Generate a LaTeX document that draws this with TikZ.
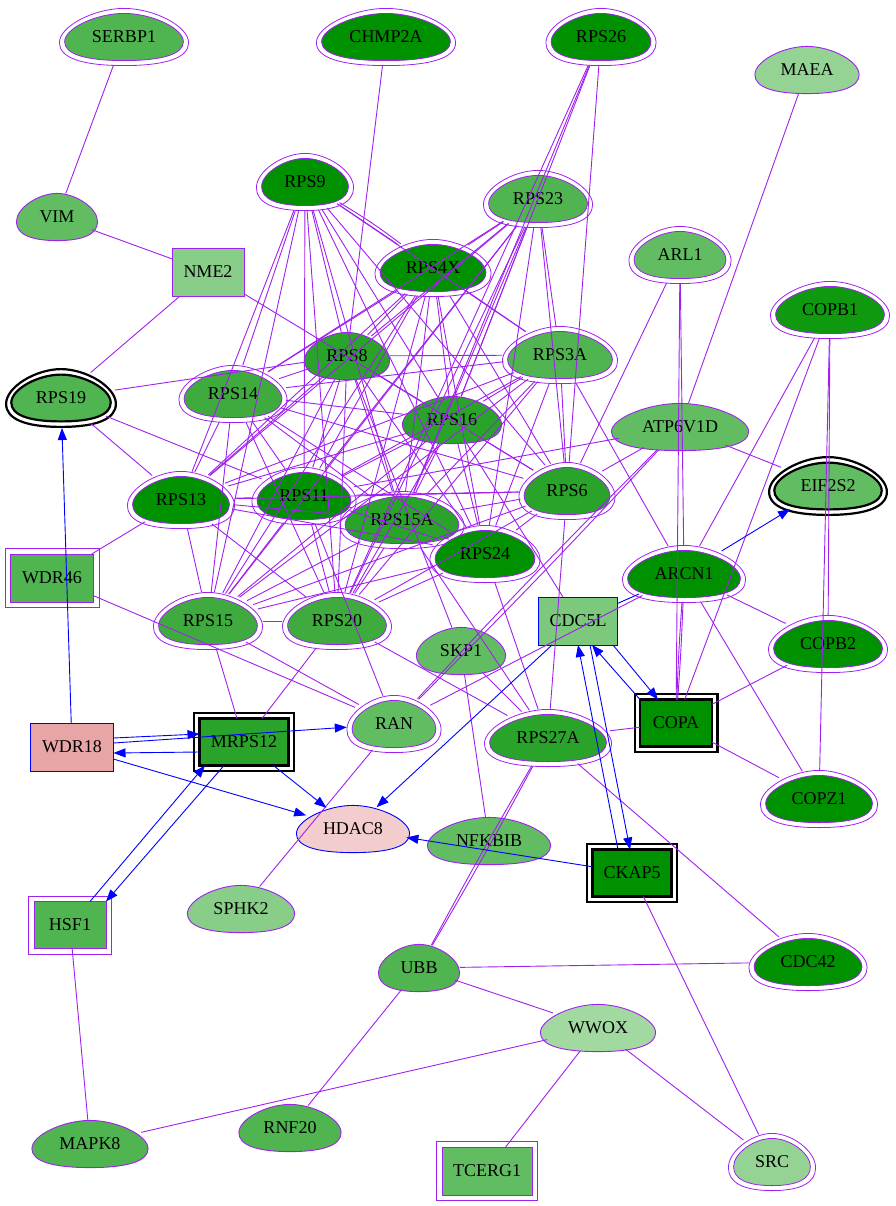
\documentclass[tikz,border=0pt]{standalone}
\usepackage{fontspec}
\setmainfont{Liberation Serif}
\usetikzlibrary{shapes.geometric,arrows.meta}

\definecolor{ppi}{HTML}{A020F0}
\definecolor{gA}{HTML}{009100}
\definecolor{gAb}{HTML}{0E990E}
\definecolor{gB}{HTML}{29A329}
\definecolor{gC}{HTML}{3FAB3F}
\definecolor{gD}{HTML}{50B450}
\definecolor{gE}{HTML}{62BD62}
\definecolor{gF}{HTML}{88CD88}
\definecolor{gFb}{HTML}{7CC87C}
\definecolor{gG}{HTML}{95D395}
\definecolor{gH}{HTML}{A1D9A1}
\definecolor{pinkA}{HTML}{F3CDCD}
\definecolor{pinkB}{HTML}{E8A5A5}

\pgfdeclarelayer{back}
\pgfsetlayers{back,main}

% egg outline round the origin: half width, half height
\newcommand{\eggpath}[2]{({0},{#2}) .. controls ({-0.66*(#1)},{#2}) and ({-(#1)},{0.72*(#2)}) .. ({-(#1)},{0.2*(#2)}) .. controls ({-(#1)},{-0.38*(#2)}) and ({-0.46*(#1)},{-(#2)}) .. ({0},{-(#2)}) .. controls ({0.46*(#1)},{-(#2)}) and ({#1},{-0.38*(#2)}) .. ({#1},{0.2*(#2)}) .. controls ({#1},{0.72*(#2)}) and ({0.66*(#1)},{#2}) .. ({0},{#2}) -- cycle}

\tikzset{
	hub/.style={ellipse, inner sep=0pt, outer sep=0pt, font=\fontsize{18}{20}\selectfont},
	genebox/.style={rectangle, draw=ppi, line width=0.8pt, inner sep=0pt, outer sep=0pt, minimum height=48pt, font=\fontsize{18}{20}\selectfont},
	seedbox/.style={genebox, draw=black, line width=2.4pt, minimum height=47pt},
	link/.style={draw=ppi, line width=0.9pt},
	reg/.style={draw=blue, line width=0.9pt, -{Triangle[length=12pt,width=9pt]}},
}

\begin{document}
\begin{tikzpicture}[x=1pt,y=-1pt]
	\useasboundingbox (0,0) rectangle (895,1206);
	
	%
	\foreach \n/\x/\y/\w/\c in {SERBP1/124/37/130/gD, CHMP2A/386/37/140/gA, RPS26/601/37/111/gA,
		RPS9/305/182/98/gA, RPS23/538/199/110/gD, RPS4X/433/268/117/gA, ARL1/680/255/103/gE,
		COPB1/830/310/120/gAb, RPS3A/560/355/116/gD, RPS14/233/394/109/gC, RPS13/181/500/108/gA,
		RPS11/304/496/105/gA, RPS15A/402/520/125/gB, RPS6/567/491/97/gB, RPS24/485/554/111/gA,
		ARCN1/684/574/124/gA, COPB2/828/644/120/gA, RPS15/208/621/110/gC, RPS20/337/621/110/gC,
		RAN/394/724/95/gE, RPS27A/548/738/128/gB, COPZ1/819/799/118/gA, CDC42/808/962/119/gA,
		SRC/772/1162/88/gG} {
		\node[hub, minimum width=\w pt, minimum height=58pt] (\n) at (\x,\y) {\n};
		\begin{pgfonlayer}{back}
			\draw[ppi, line width=0.8pt, shift={(\x,\y)}] \eggpath{\w/2-0.4}{28.6};
			\filldraw[fill=\c, draw=ppi, line width=0.8pt, shift={(\x,\y)}] \eggpath{\w/2-5.6}{23.6};
		\end{pgfonlayer}
	}
	
	%
	\foreach \n/\x/\y/\w/\c in {RPS19/61/398/112/gD, EIF2S2/828/486/120/gE} {
		\node[hub, minimum width=\w pt, minimum height=60pt] (\n) at (\x,\y) {\n};
		\begin{pgfonlayer}{back}
			\draw[black, line width=2.2pt, shift={(\x,\y)}] \eggpath{\w/2-1.1}{28.9};
			\filldraw[fill=\c, draw=black, line width=2.2pt, shift={(\x,\y)}] \eggpath{\w/2-6.3}{23.4};
		\end{pgfonlayer}
	}
	
	%
	\foreach \n/\x/\y/\w/\c/\d in {MAEA/807/70/105/gG/ppi, VIM/57/217/82/gE/ppi, RPS8/347/356/86/gB/ppi,
		RPS16/452/420/100/gB/ppi, ATP6V1D/680/427/138/gE/ppi, SKP1/461/651/90/gE/ppi,
		HDAC8/353/829/114/pinkA/blue, NFKBIB/489/841/124/gE/ppi, SPHK2/241/909/108/gF/ppi,
		UBB/419/968/82/gD/ppi, WWOX/598/1028/116/gH/ppi, MAPK8/90/1144/117/gD/ppi,
		RNF20/290/1128/103/gD/ppi} {
		\node[hub, minimum width=\w pt, minimum height=48pt] (\n) at (\x,\y) {\n};
		\begin{pgfonlayer}{back}
			\filldraw[fill=\c, draw=\d, line width=0.9pt, shift={(\x,\y)}] \eggpath{\w/2-0.4}{23.6};
		\end{pgfonlayer}
	}
	
	%
	\node[genebox, fill=gF, minimum width=72pt] (NME2) at (208,272) {NME2};
	\node[genebox, draw=blue, fill=gFb, minimum width=79pt] (CDC5L) at (578,621) {CDC5L};
	\node[genebox, draw=blue, fill=pinkB, minimum width=83pt] (WDR18) at (72,747) {WDR18};
	\node[genebox, fill=gD, minimum width=83pt] (WDR46) at (52,578) {WDR46};
	\node[genebox, fill=gD, minimum width=72pt, minimum height=47pt] (HSF1) at (70,925) {HSF1};
	\node[genebox, fill=gE, minimum width=90pt] (TCERG1) at (487,1171) {TCERG1};
	\node[seedbox, fill=gB, minimum width=89pt] (MRPS12) at (244,742) {MRPS12};
	\node[seedbox, fill=gA, minimum width=72pt] (COPA) at (676,723) {COPA};
	\node[seedbox, fill=gA, minimum width=79pt] (CKAP5) at (632,873) {CKAP5};
	\foreach \n in {WDR46,HSF1,TCERG1}
		\draw[ppi, line width=0.8pt] ([shift={(-5.5pt,5.5pt)}]\n.north west) rectangle ([shift={(5.5pt,-5.5pt)}]\n.south east);
	\foreach \n in {MRPS12,COPA,CKAP5}
		\draw[black, line width=2.4pt] ([shift={(-5.3pt,5.3pt)}]\n.north west) rectangle ([shift={(5.3pt,-5.3pt)}]\n.south east);
	
	%
	\foreach \a [count=\i] in {RPS9,RPS23,RPS4X,RPS8,RPS3A,RPS14,RPS16,RPS13,RPS11,RPS15A,RPS6,RPS24,RPS15,RPS20} {
		\foreach \b [count=\j] in {RPS9,RPS23,RPS4X,RPS8,RPS3A,RPS14,RPS16,RPS13,RPS11,RPS15A,RPS6,RPS24,RPS15,RPS20} {
			\ifnum\j>\i \ifnum\numexpr\i*100+\j\relax=102 \else \draw[link] (\a) -- (\b); \fi\fi
		}
	}
	\draw[link] (RPS9) to[bend left=3] (RPS4X);
	
	%
	\draw[link] (SERBP1) -- (VIM);
	\draw[link] (VIM) -- (NME2);
	\draw[link] (NME2) -- (RPS19);
	\draw[link] (NME2) -- (RPS16);
	\draw[link] (CHMP2A) -- (RPS8);
	\foreach \t in {RPS16,RPS15A,RPS20,RPS6} \draw[link] (RPS26) -- (\t);
	\draw[link] (MAEA) -- (ATP6V1D);
	\draw[link] (ARL1) -- (RPS6);
	\draw[link] (ARL1) -- (ARCN1);
	\draw[link] (ARL1) -- (COPA);
	\draw[link] (COPB1) -- (ARCN1);
	\draw[link] (COPB1) -- (COPA);
	\draw[link] (COPB1) -- (COPB2);
	\draw[link] (COPB1) -- (COPZ1);
	\draw[link] (ATP6V1D) -- (EIF2S2);
	\draw[link] (ATP6V1D) -- (RPS6);
	\draw[link] (ATP6V1D) -- (RPS11);
	\draw[link] (ATP6V1D) to[bend left=1] (RAN);
	\draw[link] (ATP6V1D) to[bend right=1] (RAN);
	\draw[link] (RPS3A) -- (ARCN1);
	\draw[link] (ARCN1) -- (COPB2);
	\draw[link] (ARCN1) -- (COPZ1);
	\draw[link] (ARCN1) to[bend left=1] (COPA);
	\draw[link] (ARCN1) to[bend right=1] (COPA);
	\draw[link] (ARCN1) -- (RAN);
	\draw[link] (COPB2) -- (COPA);
	\draw[link] (COPA) -- (COPZ1);
	\draw[link] (COPA) -- (RPS27A);
	\draw[link] (RPS16) -- (CDC5L);
	\draw[link] (RPS8) -- (SKP1);
	\draw[link] (RPS27A) -- (CDC42);
	\draw[link] (RPS27A) to[bend left=1] (UBB);
	\draw[link] (RPS27A) to[bend right=1] (UBB);
	\foreach \t in {RPS15A,RPS24,RPS6,RPS20,SKP1} \draw[link] (RPS27A) -- (\t);
	\draw[link] (UBB) -- (CDC42);
	\draw[link] (UBB) -- (WWOX);
	\draw[link] (UBB) -- (RNF20);
	\draw[link] (WWOX) -- (MAPK8);
	\draw[link] (WWOX) -- (TCERG1);
	\draw[link] (WWOX) -- (SRC);
	\draw[link] (CKAP5) -- (SRC);
	\draw[link] (HSF1) -- (MAPK8);
	\draw[link] (RAN) -- (SPHK2);
	\draw[link] (SKP1) -- (NFKBIB);
	\draw[link] (WDR46) -- (RPS13);
	\draw[link] (WDR46) -- (RAN);
	\draw[link] (RPS15) -- (RAN);
	\draw[link] (RPS11) -- (RAN);
	\draw[link] (RPS15) -- (MRPS12);
	\draw[link] (RPS20) -- (MRPS12);
	\draw[link] (RPS19) -- (RPS8);
	\draw[link] (RPS19) -- (RPS13);
	\draw[link] (RPS19) -- (RPS11);
	
	%
	\draw[reg] (WDR18) -- (RPS19);
	\draw[reg] ([yshift=9pt]WDR18.east) -- ([yshift=8pt]MRPS12.west);
	\draw[reg] ([yshift=-10pt]MRPS12.west) -- ([yshift=-6pt]WDR18.east);
	\draw[reg] ([yshift=4pt]WDR18.east) -- (RAN);
	\draw[reg] (WDR18) -- (HDAC8);
	\draw[reg] (MRPS12) -- (HDAC8);
	\draw[reg] ([xshift=20pt]HSF1.north) -- ([xshift=-39pt]MRPS12.south);
	\draw[reg] ([xshift=-20pt]MRPS12.south) -- ([xshift=36pt]HSF1.north);
	\draw[reg] (CDC5L) -- (HDAC8);
	\draw[reg] (CKAP5) -- (HDAC8);
	\draw[draw=blue, line width=0.9pt] (ARCN1) -- (CDC5L);
	\draw[reg] (ARCN1) -- (EIF2S2);
	\draw[reg] ([xshift=35pt]CDC5L.south) -- ([xshift=-18pt]COPA.north);
	\draw[reg] ([xshift=-36pt]COPA.north) -- ([xshift=14pt]CDC5L.south);
	\draw[reg] ([xshift=-14pt]CKAP5.north) -- (CDC5L.south);
	\draw[reg] ([xshift=12pt]CDC5L.south) -- ([xshift=-2pt]CKAP5.north);
	
\end{tikzpicture}
\end{document}
